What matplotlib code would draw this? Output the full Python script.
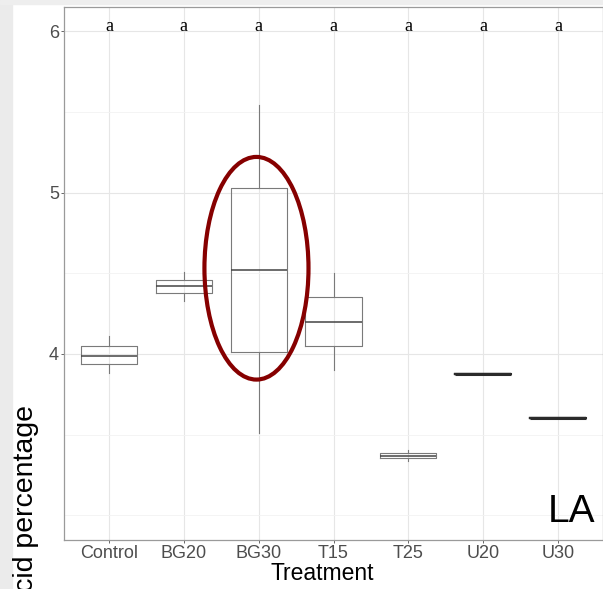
import matplotlib
matplotlib.use("Agg")
import matplotlib.pyplot as plt
from matplotlib.patches import Ellipse, Rectangle

# per-treatment boxplot summaries (LA percentage)
treatments = ["Control", "BG20", "BG30", "T15", "T25", "U20", "U30"]
whisk_lo = [3.88, 4.33, 3.51, 3.90, 3.34, 3.876, 3.602]
q1 = [3.94, 4.38, 4.01, 4.05, 3.354, 3.876, 3.602]
median = [3.99, 4.42, 4.52, 4.20, 3.37, 3.876, 3.602]
q3 = [4.05, 4.46, 5.03, 4.35, 3.389, 3.876, 3.602]
whisk_hi = [4.11, 4.51, 5.54, 4.50, 3.406, 3.876, 3.602]
letters = ["a", "a", "a", "a", "a", "a", "a"]
letter_y = 6.0
panel_tag = "LA"

plt.rcParams['font.family'] = ['Liberation Sans', 'DejaVu Sans']

fig = plt.figure(figsize=(6.03, 5.89), dpi=100)
fig.patches.append(Rectangle((0, 0), 12 / 603, 1, transform=fig.transFigure,
                             color='#ebebeb', zorder=-10))
fig.patches.append(Rectangle((0, 1 - 4 / 589), 1, 4 / 589, transform=fig.transFigure,
                             color='#eeeeee', zorder=-10))
ax = fig.add_axes([64 / 603, 49 / 589, 539 / 603, 533 / 589])

for i, name in enumerate(treatments):
    st = {"med": median[i], "q1": q1[i], "q3": q3[i],
          "whislo": whisk_lo[i], "whishi": whisk_hi[i], "fliers": [], "label": name}
    flat = q1[i] == q3[i]
    ax.bxp([st], positions=[i + 1], widths=0.75, showcaps=False, showfliers=False,
           boxprops=dict(color='#2b2b2b' if flat else '#7a7a7a', linewidth=1.6 if flat else 0.8),
           whiskerprops=dict(color='#7a7a7a', linewidth=0.8),
           medianprops=dict(color='#2b2b2b' if flat else '#444444', linewidth=2.2 if flat else 1.1))

for i, lab in enumerate(letters):
    ax.text(i + 1, letter_y, lab, ha='center', va='baseline', fontsize=13,
            family='Liberation Serif', color='black')

ax.text(0.985, 0.034, panel_tag, transform=ax.transAxes, ha='right', va='baseline',
        fontsize=28, color='black')

# highlight the BG30 group
ax.add_patch(Ellipse((2.971, 4.531), 1.39, 1.379, fill=False, edgecolor='#860000',
                     linewidth=3.0, zorder=5))

ax.set_xlim(0.4, 7.6)
ax.set_ylim(2.848, 6.149)
ax.set_xticks(range(1, len(treatments) + 1))
ax.set_xticklabels(treatments)
ax.set_yticks([4, 5, 6])
ax.set_yticks([3, 3.5, 4.5, 5.5], minor=True)
ax.tick_params(axis='both', which='major', length=2.2, width=0.6, color='#4d4d4d',
               labelcolor='#4d4d4d', labelsize=13, pad=1.5)
ax.tick_params(axis='y', which='minor', length=0)
ax.grid(True, which='major', color='#e6e6e6', linewidth=0.8)
ax.grid(True, which='minor', axis='y', color='#f2f2f2', linewidth=0.6)
ax.set_axisbelow(True)
for sp in ax.spines.values():
    sp.set_color('#9a9a9a')
    sp.set_linewidth(0.9)

ax.set_xlabel("Treatment", fontsize=16.5, color='black')
ax.xaxis.set_label_coords(0.48, -0.041)
fig.text(26 / 603, 184 / 589, "Fatty acid percentage", rotation=90, ha='center', va='top',
         fontsize=20.5, color='black')

fig.savefig("out.png", dpi=100)
